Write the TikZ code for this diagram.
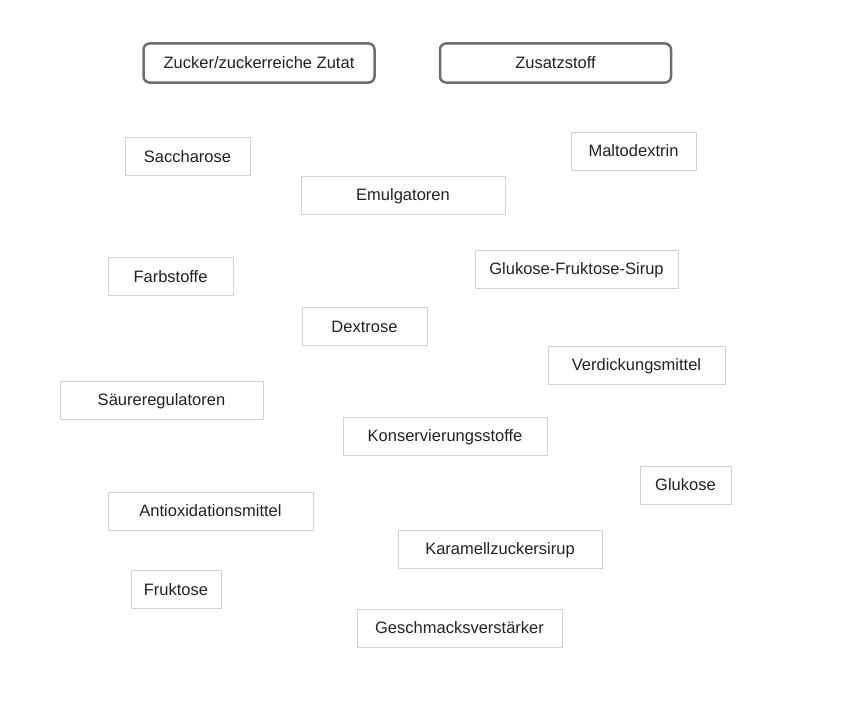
\documentclass[tikz,border=0pt]{standalone}
\usepackage{fontspec}
\setmainfont{Liberation Sans}
\definecolor{plainborder}{HTML}{D2D2D2}
\definecolor{headborder}{HTML}{6E6E6E}
\definecolor{txt}{HTML}{222222}
\begin{document}
\begin{tikzpicture}[x=1pt,y=-1pt,
  every node/.style={font=\fontsize{16.5}{19}\selectfont, text=txt, inner sep=0pt, text height=11.8pt, text depth=0pt},
  plainbox/.style={draw=plainborder, line width=1pt, fill=white, rectangle, minimum height=38pt},
  headbox/.style={draw=headborder, line width=2.5pt, fill=white, rectangle, rounded corners=6pt, minimum height=39pt, minimum width=231pt}]
\useasboundingbox[fill=white] (0,0) rectangle (850,701);
\node[headbox] (h1) at (259,63) {Zucker/zuckerreiche Zutat};
\node[headbox] (h2) at (555.5,63) {Zusatzstoff};
\node[plainbox, minimum width=125pt] (sac) at (187.5,156.5) {Saccharose};
\node[plainbox, minimum width=125pt] (malt) at (633.5,151) {Maltodextrin};
\node[plainbox, minimum width=204pt] (emul) at (403,195) {Emulgatoren};
\node[plainbox, minimum width=203pt] (gfs) at (576.5,269) {Glukose-Fruktose-Sirup};
\node[plainbox, minimum width=125pt] (farb) at (170.5,276.5) {Farbstoffe};
\node[plainbox, minimum width=125pt] (dex) at (364.5,326.5) {Dextrose};
\node[plainbox, minimum width=177pt] (verd) at (636.5,365) {Verdickungsmittel};
\node[plainbox, minimum width=203pt] (saeu) at (161.5,400) {Säureregulatoren};
\node[plainbox, minimum width=204pt] (kons) at (445,436) {Konservierungsstoffe};
\node[plainbox, minimum width=91pt] (glu) at (685.5,485) {Glukose};
\node[plainbox, minimum width=205pt] (anti) at (210.5,511) {Antioxidationsmittel};
\node[plainbox, minimum width=204pt] (kara) at (500,549) {Karamellzuckersirup};
\node[plainbox, minimum width=90pt] (fruk) at (176,589.5) {Fruktose};
\node[plainbox, minimum width=205pt] (gesch) at (459.5,628) {Geschmacksverstärker};
\end{tikzpicture}
\end{document}
